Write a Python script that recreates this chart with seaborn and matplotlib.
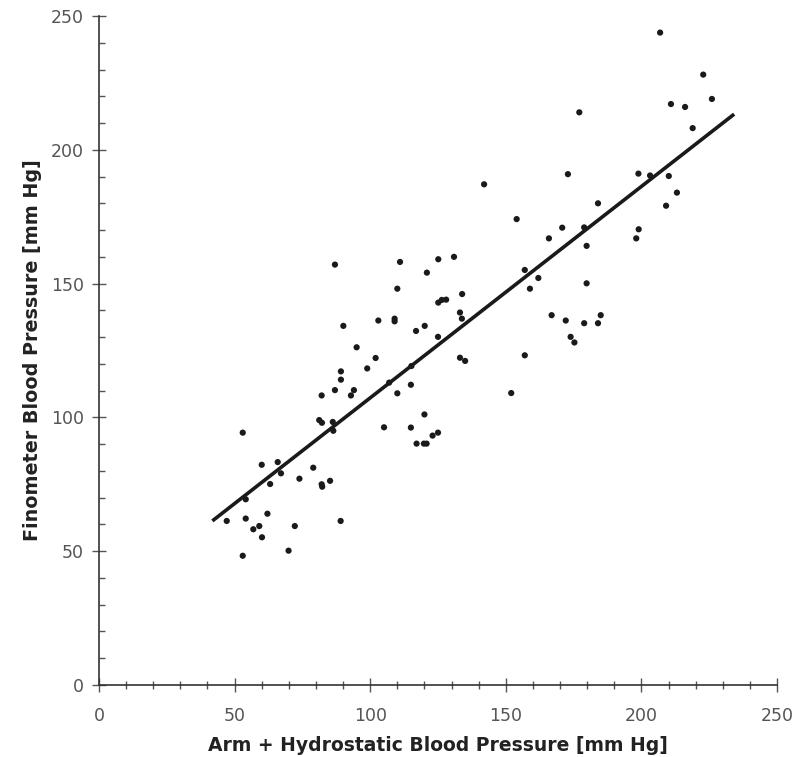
import matplotlib
matplotlib.use("Agg")
import matplotlib.pyplot as plt
import seaborn as sns
import numpy as np
import pandas as pd
from matplotlib.ticker import MultipleLocator

# Arm + hydrostatic blood pressure (x) and Finometer blood pressure (y), mm Hg
arm_bp = [53.0, 81.2, 82.2, 86.2, 86.4, 105.1, 60.0, 65.9, 67.1, 63.1, 79.0, 73.9, 82.1,
          82.3, 85.2, 54.1, 47.1, 54.1, 62.1, 56.9, 59.1, 60.1, 72.2, 89.1, 53.0, 69.9,
          87.0, 111.0, 125.1, 130.9, 120.9, 110.0, 133.9, 125.1, 126.4, 128.0, 133.1, 133.8,
          90.1, 103.0, 109.0, 109.0, 116.9, 120.1, 125.0, 95.0, 102.0, 98.9, 133.1, 135.0,
          89.2, 89.2, 115.2, 107.0, 87.0, 94.0, 92.9, 82.1, 115.0, 110.0, 120.0, 115.0,
          117.1, 119.8, 120.8, 123.0, 125.0,
          142.0, 172.9, 184.0, 154.0, 170.8, 178.9, 165.9, 179.8, 157.0, 162.0, 158.9,
          179.8, 166.9, 172.1, 178.9, 184.0, 185.0, 173.9, 175.3, 157.0, 152.0,
          206.9, 222.8, 226.0, 210.9, 216.1, 218.9, 198.9, 203.2, 210.1, 213.1, 209.1,
          199.0, 198.1, 177.1]
finometer_bp = [94.3, 99.0, 98.0, 98.3, 95.0, 96.3, 82.3, 83.3, 79.1, 75.1, 81.2, 77.1, 75.0,
                74.1, 76.3, 69.4, 61.3, 62.2, 64.0, 58.2, 59.4, 55.2, 59.4, 61.3, 48.3, 50.2,
                157.1, 158.1, 159.1, 160.0, 154.1, 148.1, 146.1, 142.9, 143.9, 144.0, 139.2, 136.9,
                134.2, 136.2, 136.9, 135.9, 132.3, 134.2, 130.1, 126.2, 122.2, 118.3, 122.3, 121.1,
                117.2, 114.1, 119.2, 113.0, 110.2, 110.2, 108.2, 108.2, 112.2, 109.0, 101.1, 96.2,
                90.2, 90.2, 90.2, 93.2, 94.3,
                187.1, 190.9, 180.0, 174.1, 170.9, 171.0, 166.9, 164.1, 155.1, 152.1, 148.1,
                150.1, 138.2, 136.2, 135.2, 135.2, 138.2, 130.1, 128.0, 123.2, 109.1,
                243.8, 228.1, 219.0, 217.1, 216.0, 208.1, 191.1, 190.4, 190.2, 184.0, 179.1,
                170.3, 166.9, 214.0]

# Regression line shown in the figure
fit_slope = 0.790
fit_intercept = 28.3
fit_x_range = [41.8, 234.2]

x_ticks = [0, 50, 100, 150, 200, 250]
y_ticks = [0, 50, 100, 150, 200, 250]

df = pd.DataFrame({"arm": arm_bp, "fino": finometer_bp})
fit_x = np.array(fit_x_range)
fit_df = pd.DataFrame({"x": fit_x, "y": fit_intercept + fit_slope * fit_x})

sns.set_theme(style="white")
plt.rcParams["font.family"] = ["DejaVu Sans"]

fig = plt.figure(figsize=(7.99, 7.57), dpi=100)
ax = fig.add_axes([99 / 799, 1 - 685 / 757, (777 - 99) / 799, (685 - 16) / 757])

sns.scatterplot(data=df, x="arm", y="fino", ax=ax, color="#1a1a1a", s=20,
                edgecolor="none", zorder=3)
sns.lineplot(data=fit_df, x="x", y="y", ax=ax, color="#1a1a1a", linewidth=2.6,
             zorder=2, solid_capstyle="butt")

ax.set_xlim(0, 250)
ax.set_ylim(0, 250)
ax.set_xticks(x_ticks)
ax.set_yticks(y_ticks)
ax.xaxis.set_minor_locator(MultipleLocator(10))
ax.yaxis.set_minor_locator(MultipleLocator(10))

for s in ["top", "right"]:
    ax.spines[s].set_visible(False)
for s in ["left", "bottom"]:
    ax.spines[s].set_color("#333333")
    ax.spines[s].set_linewidth(1.2)
    ax.spines[s].set_zorder(1)

ax.tick_params(axis="x", which="major", direction="inout", length=10, width=1,
               color="#555555", labelsize=12.5, labelcolor="#555555", pad=11, bottom=True)
ax.tick_params(axis="x", which="minor", direction="inout", length=6, width=1,
               color="#555555", bottom=True)
ax.tick_params(axis="y", which="major", direction="inout", length=10, width=1,
               color="#555555", labelsize=12.5, labelcolor="#555555", pad=6, left=True)
ax.tick_params(axis="y", which="minor", direction="in", length=4, width=1,
               color="#555555", left=True)

ax.set_xlabel("Arm + Hydrostatic Blood Pressure [mm Hg]", fontsize=13.5,
              fontweight="bold", color="#222222", labelpad=8)
ax.set_ylabel("Finometer Blood Pressure [mm Hg]", fontsize=13.8,
              fontweight="bold", color="#222222", labelpad=6)
ax.grid(False)

fig.savefig("out.png", dpi=100)
